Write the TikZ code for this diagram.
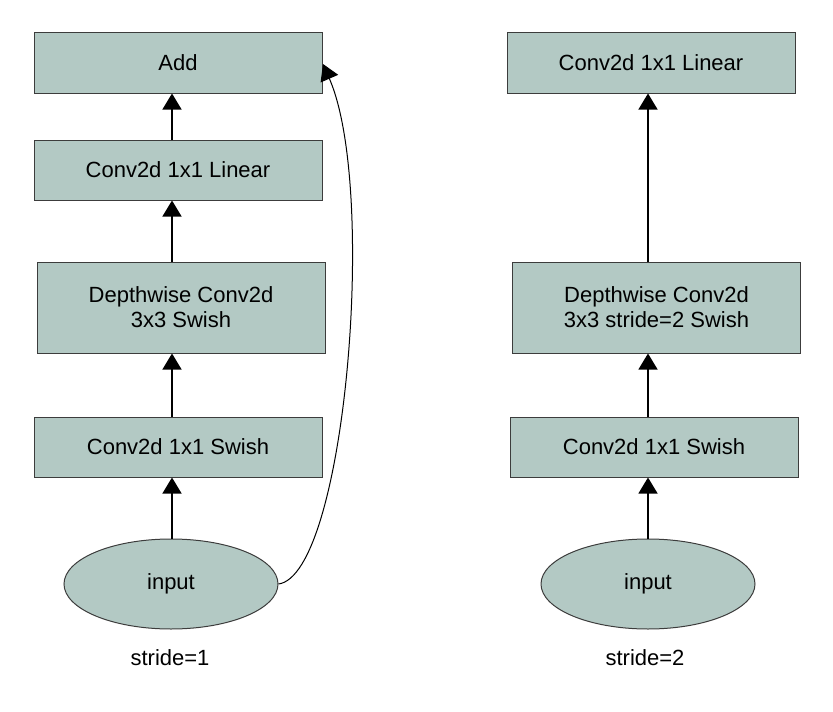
\documentclass[tikz,border=0pt]{standalone}
\usepackage{fontspec}
\setmainfont{Liberation Sans}
\usetikzlibrary{arrows.meta,shapes.geometric}
\definecolor{boxfill}{HTML}{B3C9C4}
\definecolor{boxline}{HTML}{3C3C3C}
\begin{document}
\begin{tikzpicture}[x=1pt,y=-1pt,
  txt/.style={font=\fontsize{22}{25}\selectfont},
  blk/.style={txt,draw=boxline,fill=boxfill,line width=1pt,minimum width=288pt,inner sep=0pt,align=center},
  inp/.style={txt,ellipse,draw=boxline,fill=boxfill,line width=1pt,minimum width=214pt,minimum height=90pt,inner sep=0pt},
  conn/.style={line width=1.3pt,-{Triangle[length=16pt,width=19pt]}}]
\useasboundingbox (0,0) rectangle (833,712);
% left column
\node[blk,minimum height=61pt] (addL) at (178,62.5) {Add};
\node[blk,minimum height=60pt] (linL) at (178,170) {Conv2d 1x1 Linear};
\node[blk,minimum height=91pt] (dwL) at (181,307.5) {Depthwise Conv2d\\3x3 Swish};
\node[blk,minimum height=60pt] (swL) at (178,447) {Conv2d 1x1 Swish};
\node[inp] (inL) at (171,584) {input};
\node[txt] (sL) at (170,658) {stride=1};
% right column
\node[blk,minimum height=61pt] (linR) at (651,62.5) {Conv2d 1x1 Linear};
\node[blk,minimum height=91pt] (dwR) at (656.5,307.5) {Depthwise Conv2d\\3x3 stride=2 Swish};
\node[blk,minimum height=60pt] (swR) at (654,447) {Conv2d 1x1 Swish};
\node[inp] (inR) at (648,584) {input};
\node[txt] (sR) at (645,658) {stride=2};
% connectors left
\draw[conn] (inL.north -| 172,0) -- (swL.south -| 172,0);
\draw[conn] (swL.north -| 172,0) -- (dwL.south -| 172,0);
\draw[conn] (dwL.north -| 172,0) -- (linL.south -| 172,0);
\draw[conn] (linL.north -| 172,0) -- (addL.south -| 172,0);
\coordinate (addTip) at (323,64);
\draw[line width=1pt,-{Triangle[length=16pt,width=19pt]}] (inL.east) .. controls (345,575) and (378,190) .. (addTip);
% connectors right
\draw[conn] (inR.north -| 648,0) -- (swR.south -| 648,0);
\draw[conn] (swR.north -| 648,0) -- (dwR.south -| 648,0);
\draw[conn] (dwR.north -| 648,0) -- (linR.south -| 648,0);
\end{tikzpicture}
\end{document}
